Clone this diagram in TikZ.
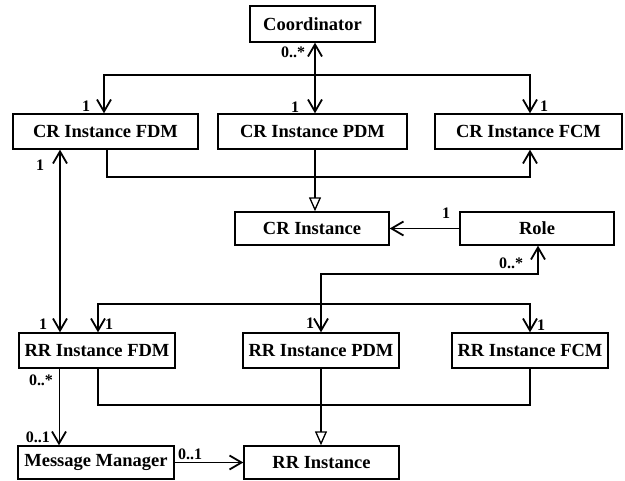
\documentclass[tikz,border=0pt]{standalone}
\usepackage{fontspec}
\setmainfont{Liberation Serif}
\usetikzlibrary{arrows.meta}

\begin{document}
\begin{tikzpicture}[x=1pt, y=-1pt, >={Straight Barb[length=12pt,width=14pt,line width=1.8pt]}]
			\tikzstyle{class} = [rectangle, draw=black, line width=1.4pt, fill=white, inner sep=0pt, font=\fontsize{18.5}{21}\selectfont\bfseries]
			\tikzstyle{mult}  = [inner sep=0pt, font=\fontsize{16}{18}\selectfont\bfseries]
			\tikzstyle{assoc} = [line width=1.5pt]
			\tikzstyle{gen}   = [line width=1.5pt, -{Triangle[open, length=14pt, width=12pt, line width=1.3pt]}]

			\useasboundingbox (0,0) rectangle (625,481);

			\foreach \name/\x/\y/\w/\h/\txt in {coord/312.5/24/125/36/Coordinator,
				crfdm/105.5/131.5/185/35/CR Instance FDM, crpdm/312.5/131.5/189/35/CR Instance PDM, crfcm/528.5/131.5/187/35/CR Instance FCM,
				crinst/312/228.5/154/33/CR Instance, role/537/228.5/154/33/Role,
				rrfdm/97/350.5/156/35/RR Instance FDM, rrpdm/321/350.5/156/35/RR Instance PDM, rrfcm/530/350.5/156/35/RR Instance FCM,
				msgmgr/96/462.5/156/33/Message Manager, rrinst/321.5/462.5/155/33/RR Instance}
				\node[class, minimum width=\w pt, minimum height=\h pt] (\name) at (\x, \y) {\txt};

			\foreach \name/\x/\y/\txt in {m1/293/52/0..*, m2/86/106/1, m3/295/107/1, m4/544/106/1, m5/40/165/1,
				m6/446/213/1, m7/511/263/0..*, m8/43/324/1, m9/109/324/1, m10/310/323/1, m11/541/325/1,
				m12/41/380/0..*, m13/38/437/0..1, m14/190/454/0..1}
				\node[mult] (\name) at (\x, \y) {\txt};

			% bends of the connectors
			\coordinate (topL) at (104, 75);
			\coordinate (topR) at (530, 75);
			\coordinate (genL) at (107, 177);
			\coordinate (genR) at (530, 177);
			\coordinate (link) at (60, 240);
			\coordinate (roleR) at (538, 274);
			\coordinate (roleL) at (321, 274);
			\coordinate (rrL) at (98, 304);
			\coordinate (rrR) at (530, 304);
			\coordinate (gen2L) at (98, 405);
			\coordinate (gen2R) at (530, 405);
			\coordinate (mm) at (59, 400);

			\draw[assoc, <->] ([xshift=2.5pt]coord.south) -- ([xshift=2.5pt]crpdm.north);
			\draw[assoc, <->] (topL |- crfdm.north) -- (topL) -- (topR) -- (topR |- crfcm.north);
			\draw[assoc, ->] (genL |- crfdm.south) -- (genL) -- (genR) -- (genR |- crfcm.south);
			\draw[gen] ([xshift=2.5pt]crpdm.south) -- ([xshift=2.5pt]crpdm.south |- crinst.north);
			\draw[assoc, ->] (role) -- (crinst);
			\draw[assoc, <->] (roleR |- role.south) -- (roleR) -- (roleL) -- (roleL |- rrpdm.north);
			\draw[assoc, <->] (rrL |- rrfdm.north) -- (rrL) -- (rrR) -- (rrR |- rrfcm.north);
			\draw[assoc, <->] (link |- crfdm.south) -- (link |- rrfdm.north);
			\draw[assoc] (gen2L |- rrfdm.south) -- (gen2L) -- (gen2R) -- (gen2R |- rrfcm.south);
			\draw[gen] (rrpdm.south) -- (rrpdm.south |- rrinst.north);
			\draw[line width=0.8pt, ->] (mm |- rrfdm.south) -- (mm |- msgmgr.north);
			\draw[assoc, ->] (msgmgr) -- (rrinst);
		\end{tikzpicture}
\end{document}
